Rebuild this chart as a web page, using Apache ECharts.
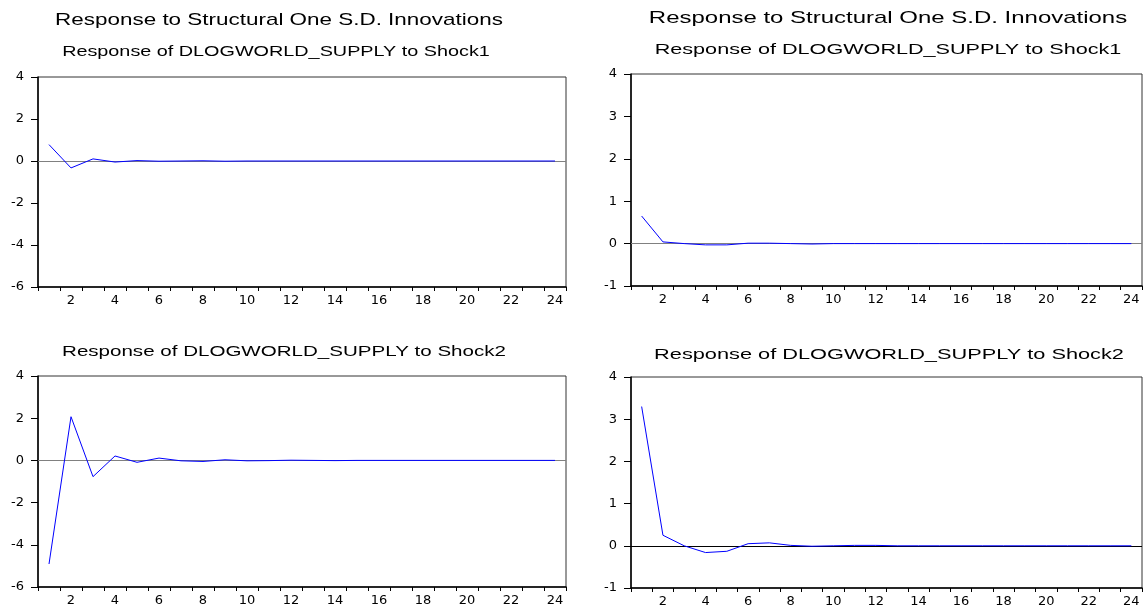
<!DOCTYPE html>
<html>
<head>
<meta charset="utf-8">
<script src="https://cdn.jsdelivr.net/npm/echarts@6/dist/echarts.min.js"></script>
<style>
html,body{margin:0;padding:0;background:#fff;}
#chart{width:1144px;height:608px;}
</style>
</head>
<body>
<div id="chart"></div>
<script>
// ---- data ----
const periods = ['1','2','3','4','5','6','7','8','9','10','11','12','13','14','15','16','17','18','19','20','21','22','23','24'];
const mainTitle = 'Response to Structural One S.D. Innovations';
const subTitles = [
  'Response of DLOGWORLD_SUPPLY to Shock1',
  'Response of DLOGWORLD_SUPPLY to Shock1',
  'Response of DLOGWORLD_SUPPLY to Shock2',
  'Response of DLOGWORLD_SUPPLY to Shock2'
];
// left column
const respShock1Left = [0.78, -0.33, 0.10, -0.05, 0.02, -0.01, 0.00, 0.01, -0.01, 0.00, 0.00, 0.00, 0.00, 0.00, 0.00, 0.00, 0.00, 0.00, 0.00, 0.00, 0.00, 0.00, 0.00, 0.00];
const respShock2Left = [-4.91, 2.07, -0.77, 0.21, -0.09, 0.11, -0.02, -0.05, 0.03, -0.02, -0.01, 0.01, 0.00, -0.01, 0.00, 0.00, 0.00, 0.00, 0.00, 0.00, 0.00, 0.00, 0.00, 0.00];
// right column
const respShock1Right = [0.65, 0.04, 0.00, -0.03, -0.03, 0.01, 0.01, 0.00, -0.01, 0.00, 0.00, 0.00, 0.00, 0.00, 0.00, 0.00, 0.00, 0.00, 0.00, 0.00, 0.00, 0.00, 0.00, 0.00];
const respShock2Right = [3.30, 0.25, 0.00, -0.16, -0.13, 0.05, 0.07, 0.01, -0.01, 0.00, 0.01, 0.01, 0.00, 0.00, 0.00, 0.00, 0.00, 0.00, 0.00, 0.00, 0.00, 0.00, 0.00, 0.00];
// y scales
const leftYMin = -6, leftYMax = 4, leftYStep = 2;
const rightYMin = -1, rightYMax = 4, rightYStep = 1;

// ---- layout ----
const panels = [
  {data: respShock1Left,  grid:{left:38,  top:77,  width:528, height:210}, y:[leftYMin,leftYMax,leftYStep],   zero:'#808080'},
  {data: respShock1Right, grid:{left:631, top:74,  width:511, height:212}, y:[rightYMin,rightYMax,rightYStep], zero:'#808080'},
  {data: respShock2Left,  grid:{left:38,  top:376, width:528, height:211}, y:[leftYMin,leftYMax,leftYStep],   zero:'#808080'},
  {data: respShock2Right, grid:{left:631, top:377, width:511, height:213}, y:[rightYMin,rightYMax,rightYStep], zero:'#000000'}
];

const labelFont = {color:'#000', fontSize:13, fontFamily:'DejaVu Sans'};

const option = {
  animation:false,
  backgroundColor:'#fff',
  grid: panels.map(p => Object.assign({show:true, borderColor:'#333', borderWidth:1, backgroundColor:'#fff'}, p.grid)),
  xAxis: panels.map((p,i) => ({
    type:'category', gridIndex:i, data:periods, boundaryGap:true,
    axisLine:{show:true, onZero:false, lineStyle:{color:'#000', width:1.5}},
    axisTick:{show:true, inside:false, length:4, interval:0, lineStyle:{color:'#000'}},
    axisLabel:Object.assign({interval:(idx)=>idx%2===1, margin:7}, labelFont),
    splitLine:{show:false}
  })),
  yAxis: panels.map((p,i) => ({
    type:'value', gridIndex:i, min:p.y[0], max:p.y[1], interval:p.y[2],
    axisLine:{show:true, onZero:false, lineStyle:{color:'#000', width:1.5}},
    axisTick:{show:true, inside:false, length:7, lineStyle:{color:'#000'}},
    axisLabel:Object.assign({margin:14}, labelFont),
    splitLine:{show:false}
  })),
  series: panels.map((p,i) => ({
    type:'line', xAxisIndex:i, yAxisIndex:i, data:p.data,
    symbol:'none', lineStyle:{color:'#0000ff', width:1}, itemStyle:{color:'#0000ff'},
    z:3,
    markLine:{silent:true, symbol:'none', label:{show:false}, animation:false, z:2,
      lineStyle:{color:p.zero, width:1.2, type:'solid'}, data:[{yAxis:0}]}
  })),
  graphic: [
    {type:'text', x:279, y:20, scaleX:1.32, style:{text:mainTitle, x:0, y:0, align:'center', verticalAlign:'middle', font:'17px "Liberation Sans"', fill:'#000'}},
    {type:'text', x:888, y:18, scaleX:1.41, style:{text:mainTitle, x:0, y:0, align:'center', verticalAlign:'middle', font:'17px "Liberation Sans"', fill:'#000'}},
    {type:'text', x:276, y:52, scaleX:1.32, style:{text:subTitles[0], x:0, y:0, align:'center', verticalAlign:'middle', font:'15px "Liberation Sans"', fill:'#000'}},
    {type:'text', x:888, y:50, scaleX:1.44, style:{text:subTitles[1], x:0, y:0, align:'center', verticalAlign:'middle', font:'15px "Liberation Sans"', fill:'#000'}},
    {type:'text', x:284, y:352, scaleX:1.37, style:{text:subTitles[2], x:0, y:0, align:'center', verticalAlign:'middle', font:'15px "Liberation Sans"', fill:'#000'}},
    {type:'text', x:889, y:355, scaleX:1.45, style:{text:subTitles[3], x:0, y:0, align:'center', verticalAlign:'middle', font:'15px "Liberation Sans"', fill:'#000'}}
  ]
};

const chart = echarts.init(document.getElementById('chart'), null, {renderer:'canvas'});
chart.setOption(option);
</script>
</body>
</html>
